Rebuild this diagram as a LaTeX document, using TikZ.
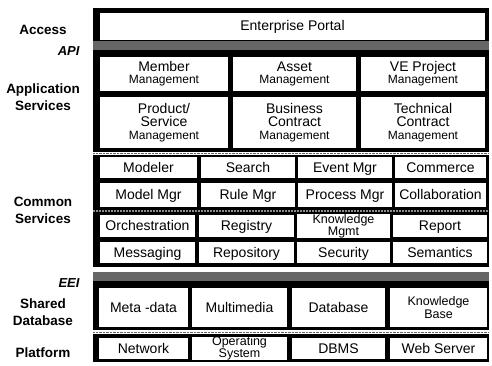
\documentclass[tikz,border=0pt]{standalone}
\usepackage{fontspec}
\setmainfont{Liberation Sans}
\newcommand{\mgmt}{{\fontsize{12}{12}\selectfont Management}}
\tikzset{
  band/.style={fill=black},
  api/.style={fill=black!60},
  cell/.style={fill=white,inner sep=0pt,align=center,font=\fontsize{14}{13}\selectfont},
  one/.style={text height=10.5pt,text depth=1.5pt},
  small/.style={font=\fontsize{12.5}{9}\selectfont},
  layer/.style={align=center,font=\fontsize{13.5}{17}\selectfont\bfseries},
  iface/.style={anchor=east,font=\fontsize{13}{13}\selectfont\bfseries\itshape}
}
\begin{document}
\begin{tikzpicture}[x=1pt,y=-1pt]
\useasboundingbox[fill=white] (0,0) rectangle (492,366);
\fill[band] (93,8) rectangle (489,41);
\fill[api] (93,41) rectangle (489,50);
\fill[band] (93,50) rectangle (489,152);
\fill[band] (93,155) rectangle (489,267);
\fill[api] (93,272) rectangle (489,281);
\fill[band] (93,281) rectangle (489,330);
\fill[band] (93,334) rectangle (489,362);
\draw[black!60,densely dotted] (93,153.5) -- (489,153.5);
\draw[black!60,densely dotted] (93,332) -- (489,332);
\draw[black!45,densely dotted,line width=2pt] (93,211) -- (489,211);

\node[layer] (access) at (43,30) {Access};
\node[iface] (apil) at (83,51) {API};
\node[layer] (appl) at (43,97) {Application\\Services};
\node[layer] (coml) at (43,210) {Common\\Services};
\node[iface] (eeil) at (83,283) {EEI};
\node[layer] (dbl) at (43,312) {Shared\\Database};
\node[layer] (platl) at (43,353) {Platform};

\node[cell,one,minimum width=385,minimum height=27] (portal) at (292.5,26.5) {Enterprise Portal};

\foreach \n/\x/\w [count=\i] in {Member/164/128, Asset/294.5/123, VE Project/423/124}
  \node[cell,minimum width=\w,minimum height=34] (as1\i) at (\x,74) {\n\\[-1pt]\mgmt};
\node[cell,minimum width=128,minimum height=51] (as21) at (164,122.5) {Product/\\Service\\\mgmt};
\node[cell,minimum width=123,minimum height=51] (as22) at (294.5,122.5) {Business\\Contract\\\mgmt};
\node[cell,minimum width=124,minimum height=51] (as23) at (423,122.5) {Technical\\Contract\\\mgmt};

\foreach \n/\x/\w [count=\i] in {Modeler/148.5/97, Search/248/94, Event Mgr/345/94, Commerce/440.5/91}
  \node[cell,one,minimum width=\w,minimum height=21] (cs1\i) at (\x,167.5) {\n};
\foreach \n/\x/\w [count=\i] in {Model Mgr/148.5/97, Rule Mgr/248/94, Process Mgr/345/94, Collaboration/440.5/91}
  \node[cell,one,minimum width=\w,minimum height=24] (cs2\i) at (\x,195) {\n};
\foreach \n/\x/\w [count=\i] in {Orchestration/147.5/95, Registry/246.5/95, Report/440/94}
  \node[cell,one,minimum width=\w,minimum height=22] (cs3\i) at (\x,226) {\n};
\node[cell,small,minimum width=93,minimum height=22] (cs34) at (343.5,226) {Knowledge\\Mgmt};
\foreach \n/\x/\w [count=\i] in {Messaging/147.5/95, Repository/246.5/95, Security/343.5/93, Semantics/440/94}
  \node[cell,one,minimum width=\w,minimum height=21] (cs4\i) at (\x,252.5) {\n};

\foreach \n/\x/\w [count=\i] in {Meta -data/143.5/89, Multimedia/239.5/95, Database/338.5/93}
  \node[cell,one,minimum width=\w,minimum height=39] (db\i) at (\x,307.5) {\n};
\node[cell,small,minimum width=97,minimum height=39] (db4) at (438.5,307.5) {Knowledge\\Base};

\foreach \n/\x/\w [count=\i] in {Network/143.5/89, DBMS/338.5/93, Web Server/438.5/97}
  \node[cell,one,minimum width=\w,minimum height=21] (pf\i) at (\x,348.5) {\n};
\node[cell,small,minimum width=95,minimum height=21] (pf4) at (239.5,348.5) {Operating\\System};
\end{tikzpicture}
\end{document}
